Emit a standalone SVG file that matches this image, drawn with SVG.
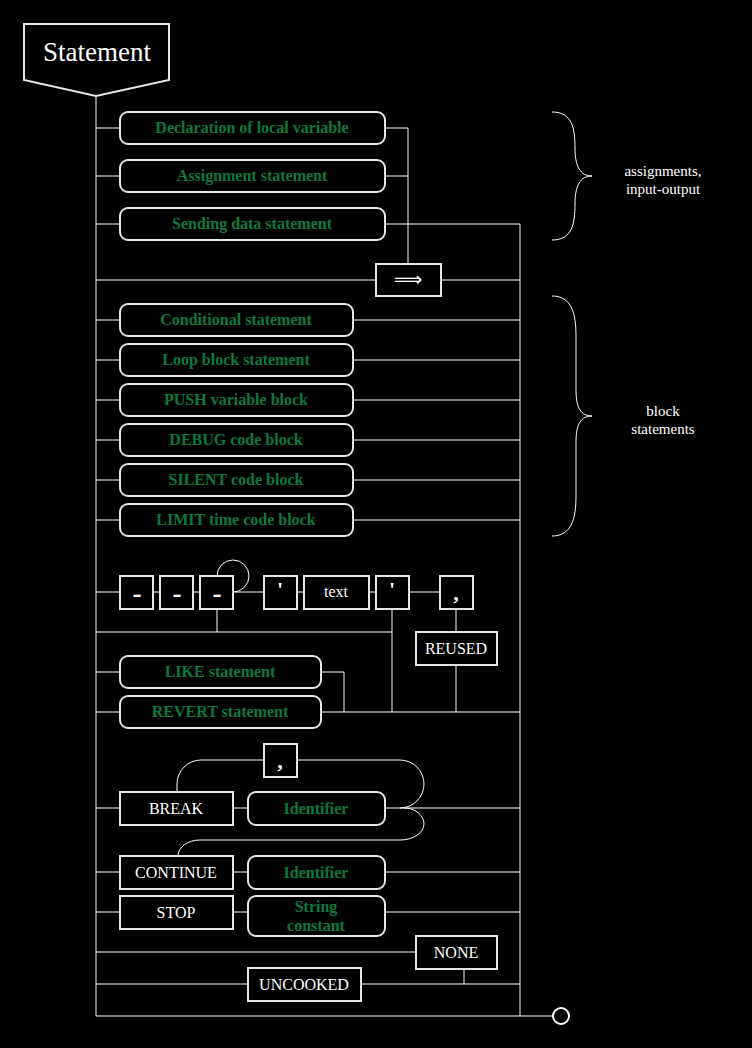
<svg xmlns="http://www.w3.org/2000/svg" width="752" height="1048" viewBox="0 0 752 1048">
<style>
.bx{fill:#000;stroke:#e6e6e6;stroke-width:2}
.ln{fill:none;stroke:#fff;stroke-width:1}
text{font-family:"Liberation Serif","Times New Roman","DejaVu Serif",serif;text-anchor:middle}
.g{fill:#0b7a3b;font-weight:bold;font-size:16px}
.w{fill:#fff;font-size:16px}
.s{fill:#fff;font-size:15px}
.p{fill:#fff;font-weight:bold;font-size:22px}
.d{fill:#fff;font-weight:bold;font-size:27px}
</style>
<rect x="0" y="0" width="752" height="1048" fill="#000"/>
<g id="connectors" class="ln">
<path d="M96,96 V1016 H553"/>
<path d="M520,224 V1016"/>
<path d="M96,128 H120 M385,128 H408 V264"/>
<path d="M96,176 H120 M385,176 H408"/>
<path d="M96,224 H120 M385,224 H520"/>
<path d="M96,280 H376 M441,280 H520"/>
<path d="M96,320 H120 M353,320 H520 M96,360 H120 M353,360 H520 M96,400 H120 M353,400 H520 M96,440 H120 M353,440 H520 M96,480 H120 M353,480 H520 M96,520 H120 M353,520 H520"/>
<path d="M96,592 H120 M153,592 H160 M193,592 H200 M233,592 H264 M297,592 H304 M369,592 H376 M409,592 H440"/>
<path d="M217,576 A16,16 0 1 1 233,592"/>
<path d="M217,609 V632 M96,632 H392 M392,609 V712 M456,609 V632 M456,665 V712"/>
<path d="M96,672 H120 M321,672 H344 V712"/>
<path d="M96,712 H120 M321,712 H520"/>
<path d="M96,808 H120 M233,808 H248 M385,808 H520"/>
<path d="M177,792 V784 A24,24 0 0 1 201,760 H264 M297,760 H400 A24,24 0 0 1 424,784 A24,24 0 0 1 400,808"/>
<path d="M404,808 A20,16 0 0 1 424,824 A24,16 0 0 1 400,840 H200 A22,16 0 0 0 178,856"/>
<path d="M96,872 H120 M233,872 H248 M385,872 H520"/>
<path d="M96,912 H120 M233,912 H248 M385,912 H520"/>
<path d="M96,952 H416 M464,969 V984"/>
<path d="M96,984 H248 M361,984 H520"/>
<path d="M552,112 C572,112 575,128 575,148 C575,166 580,176 592,176 C580,176 575,186 575,204 C575,224 572,240 552,240"/>
<path d="M552,296 C572,296 576,314 576,336 L576,390 C576,408 581,416 592,416 C581,416 576,424 576,442 L576,496 C576,518 572,536 552,536"/>
</g>
<g id="start">
<path class="bx" d="M24,24 H169 V80 L96,96 L24,80 Z"/>
<text x="97" y="61" class="w" style="font-size:27px">Statement</text>
</g>
<g id="end"><circle cx="561" cy="1016" r="8" fill="#000" stroke="#fff" stroke-width="2"/></g>
<g id="n-decl"><rect class="bx" x="120" y="112" width="265" height="32" rx="8"/><text class="g" x="252" y="133">Declaration of local variable</text></g>
<g id="n-assign"><rect class="bx" x="120" y="160" width="265" height="32" rx="8"/><text class="g" x="252" y="181">Assignment statement</text></g>
<g id="n-send"><rect class="bx" x="120" y="208" width="265" height="32" rx="8"/><text class="g" x="252" y="229">Sending data statement</text></g>
<g id="n-arrow"><rect class="bx" x="376" y="264" width="65" height="32"/><text class="w" x="408" y="286" style="font-family:'DejaVu Sans',sans-serif;font-size:20px">⟹</text></g>
<g id="n-cond"><rect class="bx" x="120" y="304" width="233" height="32" rx="8"/><text class="g" x="236" y="325">Conditional statement</text></g>
<g id="n-loop"><rect class="bx" x="120" y="344" width="233" height="32" rx="8"/><text class="g" x="236" y="365">Loop block statement</text></g>
<g id="n-push"><rect class="bx" x="120" y="384" width="233" height="32" rx="8"/><text class="g" x="236" y="405">PUSH variable block</text></g>
<g id="n-debug"><rect class="bx" x="120" y="424" width="233" height="32" rx="8"/><text class="g" x="236" y="445">DEBUG code block</text></g>
<g id="n-silent"><rect class="bx" x="120" y="464" width="233" height="32" rx="8"/><text class="g" x="236" y="485">SILENT code block</text></g>
<g id="n-limit"><rect class="bx" x="120" y="504" width="233" height="32" rx="8"/><text class="g" x="236" y="525">LIMIT time code block</text></g>
<g id="brace-labels">
<text class="s" x="663" y="176">assignments,</text>
<text class="s" x="663" y="194">input-output</text>
<text class="s" x="663" y="416">block</text>
<text class="s" x="663" y="434">statements</text>
</g>
<g id="n-dash1"><rect class="bx" x="120" y="576" width="33" height="33"/><text class="d" x="137" y="602">-</text></g>
<g id="n-dash2"><rect class="bx" x="160" y="576" width="33" height="33"/><text class="d" x="177" y="602">-</text></g>
<g id="n-dash3"><rect class="bx" x="200" y="576" width="33" height="33"/><text class="d" x="217" y="602">-</text></g>
<g id="n-q1"><rect class="bx" x="264" y="576" width="33" height="33"/><text class="p" x="280" y="597">'</text></g>
<g id="n-text"><rect class="bx" x="304" y="576" width="65" height="33"/><text class="w" x="336" y="597">text</text></g>
<g id="n-q2"><rect class="bx" x="376" y="576" width="33" height="33"/><text class="p" x="392" y="597">'</text></g>
<g id="n-comma1"><rect class="bx" x="440" y="576" width="33" height="33"/><text class="p" x="456" y="600">,</text></g>
<g id="n-reused"><rect class="bx" x="416" y="632" width="81" height="33"/><text class="w" x="456" y="654">REUSED</text></g>
<g id="n-like"><rect class="bx" x="120" y="656" width="201" height="32" rx="8"/><text class="g" x="220" y="677">LIKE statement</text></g>
<g id="n-revert"><rect class="bx" x="120" y="696" width="201" height="32" rx="8"/><text class="g" x="220" y="717">REVERT statement</text></g>
<g id="n-comma2"><rect class="bx" x="264" y="744" width="33" height="33"/><text class="p" x="280" y="768">,</text></g>
<g id="n-break"><rect class="bx" x="120" y="792" width="113" height="33"/><text class="w" x="176" y="814">BREAK</text></g>
<g id="n-id1"><rect class="bx" x="248" y="792" width="137" height="33" rx="8"/><text class="g" x="316" y="814">Identifier</text></g>
<g id="n-continue"><rect class="bx" x="120" y="856" width="113" height="33"/><text class="w" x="176" y="878">CONTINUE</text></g>
<g id="n-id2"><rect class="bx" x="248" y="856" width="137" height="33" rx="8"/><text class="g" x="316" y="878">Identifier</text></g>
<g id="n-stop"><rect class="bx" x="120" y="896" width="113" height="33"/><text class="w" x="176" y="918">STOP</text></g>
<g id="n-string"><rect class="bx" x="248" y="896" width="137" height="40" rx="8"/><text class="g" x="316" y="912">String</text><text class="g" x="316" y="931">constant</text></g>
<g id="n-none"><rect class="bx" x="416" y="936" width="81" height="33"/><text class="w" x="456" y="958">NONE</text></g>
<g id="n-uncooked"><rect class="bx" x="248" y="968" width="113" height="33"/><text class="w" x="304" y="990">UNCOOKED</text></g>
</svg>
